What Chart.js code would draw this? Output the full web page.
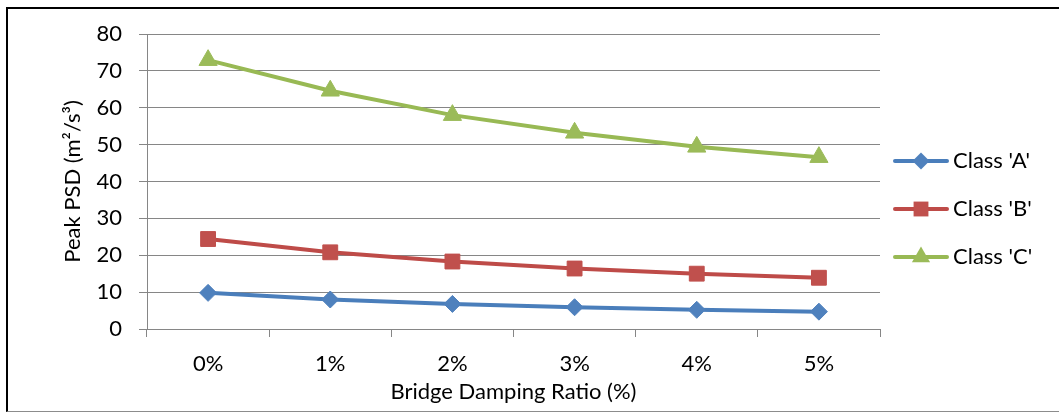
<!DOCTYPE html>
<html>
<head>
<meta charset="utf-8">
<script src="https://cdn.jsdelivr.net/npm/chart.js@4.4.1/dist/chart.umd.min.js"></script>
<style>
  html, body { margin: 0; padding: 0; background: #fff; }
  #wrap { position: relative; width: 1059px; height: 412px; overflow: hidden; }
  #frame { position: absolute; left: 6px; top: 7px; width: 1100px; height: 402px;
           border-top: 2px solid #000; border-left: 2px solid #000; border-bottom: 1px solid #8c8c8c;
           pointer-events: none; }
  canvas { position: absolute; left: 0; top: 0; }
</style>
</head>
<body>
<div id="wrap">
  <canvas id="c" width="1059" height="412"></canvas>
  <div id="frame"></div>
</div>
<script>
const categories = ['0%', '1%', '2%', '3%', '4%', '5%'];
const classA = [9.8, 8.0, 6.8, 5.9, 5.2, 4.7];
const classB = [24.4, 20.8, 18.3, 16.4, 15.0, 13.9];
const classC = [72.9, 64.6, 58.0, 53.2, 49.4, 46.6];
const yTicks = [0, 10, 20, 30, 40, 50, 60, 70, 80];
const seriesNames = ["Class 'A'", "Class 'B'", "Class 'C'"];

const FONT = 'Lato, "Open Sans", sans-serif';
const FS = 22;
const GRID = '#868686';

function drawMarker(ctx, style, x, y, r, color) {
  ctx.save();
  ctx.fillStyle = color;
  ctx.beginPath();
  if (style === 'rectRot') {
    ctx.moveTo(x - r, y); ctx.lineTo(x, y - r); ctx.lineTo(x + r, y); ctx.lineTo(x, y + r);
  } else if (style === 'rect') {
    const s = Math.SQRT1_2 * r;
    ctx.rect(x - s, y - s, 2 * s, 2 * s);
  } else if (style === 'triangle') {
    ctx.moveTo(x, y - r);
    ctx.lineTo(x + r * Math.sin(2 * Math.PI / 3), y - r * Math.cos(2 * Math.PI / 3));
    ctx.lineTo(x + r * Math.sin(4 * Math.PI / 3), y - r * Math.cos(4 * Math.PI / 3));
  }
  ctx.closePath();
  ctx.fill();
  ctx.restore();
}

const legendPlugin = {
  id: 'lineLegend',
  afterDraw(chart) {
    const ctx = chart.ctx;
    const x0 = chart.chartArea.right + 13;
    chart.data.datasets.forEach((ds, i) => {
      const y = 161 + 48 * i;
      ctx.save();
      ctx.strokeStyle = ds.borderColor;
      ctx.lineWidth = 4;
      ctx.lineCap = 'round';
      ctx.beginPath();
      ctx.moveTo(x0 + 2, y); ctx.lineTo(x0 + 54, y);
      ctx.stroke();
      drawMarker(ctx, ds.pointStyle, x0 + 28, y, ds.pointRadius, ds.pointBackgroundColor);
      ctx.fillStyle = '#000';
      ctx.font = FS + 'px ' + FONT;
      ctx.textAlign = 'left';
      ctx.textBaseline = 'middle';
      ctx.fillText(ds.label, x0 + 60, y);
      ctx.restore();
    });
  }
};

new Chart(document.getElementById('c'), {
  type: 'line',
  data: {
    labels: categories,
    datasets: [
      { label: seriesNames[0], data: classA, borderColor: '#4A7EBB', backgroundColor: '#4F81BD',
        pointBackgroundColor: '#4F81BD', pointBorderColor: '#4F81BD', pointStyle: 'rectRot', pointRadius: 8.5 },
      { label: seriesNames[1], data: classB, borderColor: '#BE4B48', backgroundColor: '#C0504D',
        pointBackgroundColor: '#C0504D', pointBorderColor: '#C0504D', pointStyle: 'rect', pointRadius: 10.5 },
      { label: seriesNames[2], data: classC, borderColor: '#98B954', backgroundColor: '#9BBB59',
        pointBackgroundColor: '#9BBB59', pointBorderColor: '#9BBB59', pointStyle: 'triangle', pointRadius: 10.5 }
    ].map(d => Object.assign(d, { borderWidth: 4, tension: 0, pointBorderWidth: 1, fill: false }))
  },
  options: {
    responsive: false,
    devicePixelRatio: 1,
    animation: false,
    events: [],
    layout: { padding: { left: 0, top: 34, right: 179, bottom: 0 } },
    plugins: { legend: { display: false }, tooltip: { enabled: false } },
    scales: {
      x: {
        type: 'category',
        offset: true,
        afterFit(s) { s.height = 83; },
        grid: { display: true, drawOnChartArea: false, drawTicks: true, tickLength: 8, offset: true, color: GRID, lineWidth: 1 },
        border: { display: true, color: GRID, width: 1 },
        ticks: { color: '#000', font: { family: FONT, size: FS }, padding: 14, maxRotation: 0 },
        title: { display: true, text: 'Bridge Damping Ratio (%)', color: '#000', font: { family: FONT, size: FS }, padding: { top: 0, bottom: 7 } }
      },
      y: {
        min: 0, max: 80,
        afterFit(s) { s.width = 147; },
        afterBuildTicks(s) { s.ticks = yTicks.map(v => ({ value: v })); },
        grid: { color: GRID, lineWidth: 1, tickLength: 8 },
        border: { display: true, color: GRID, width: 1 },
        ticks: { color: '#000', font: { family: FONT, size: FS }, padding: 17 },
        title: { display: true, text: 'Peak PSD (m²/s³)', color: '#000', font: { family: FONT, size: FS }, padding: { top: 60, bottom: 0 } }
      }
    }
  },
  plugins: [legendPlugin]
});
</script>
</body>
</html>
